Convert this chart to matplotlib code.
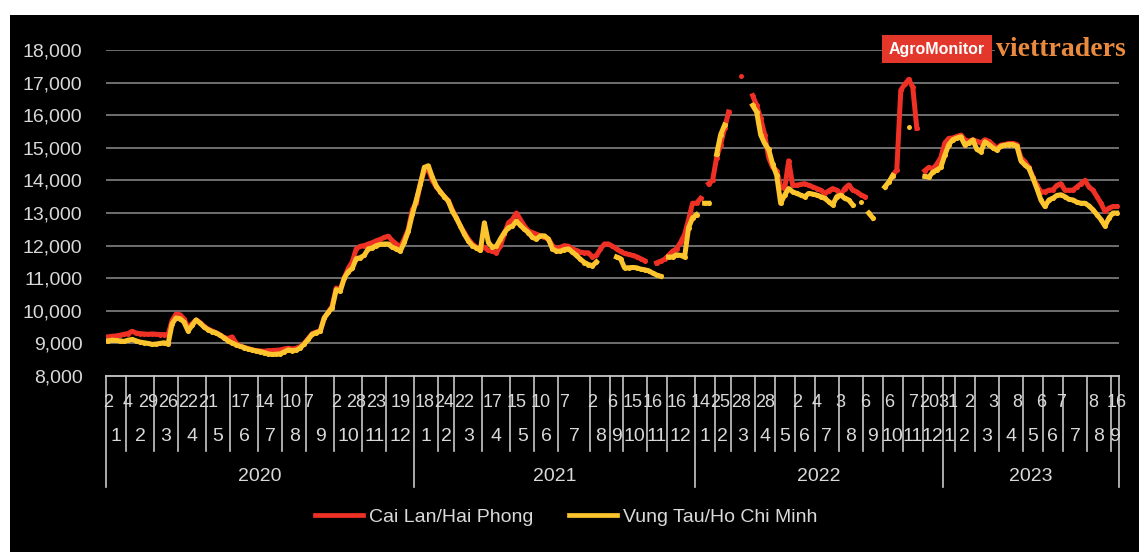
import numpy as np
import matplotlib
matplotlib.use("Agg")
import matplotlib.pyplot as plt
import matplotlib.transforms as mtransforms
from matplotlib.lines import Line2D
from matplotlib.patches import Rectangle
from matplotlib.ticker import FuncFormatter

nan = np.nan

# ---- category structure: year / month / observations per month ----
years = ["2020", "2021", "2022", "2023"]
months = [list(range(1, 13)), list(range(1, 13)), list(range(1, 13)), list(range(1, 10))]
obs_per_month = [
    [5, 7, 6, 7, 6, 7, 6, 6, 7, 7, 6, 7],
    [6, 4, 7, 7, 6, 6, 8, 5, 3, 6, 5, 7],
    [5, 4, 6, 5, 5, 5, 6, 6, 5, 5, 5, 5],
    [3, 5, 6, 6, 5, 5, 6, 6, 2],
]

# day-of-month labels shown on the innermost axis level, and the observation they belong to
day_labels = ["2", "4", "29", "26", "22", "21", "17", "14", "10", "7", "2", "28", "23", "19",
              "18", "24", "22", "17", "15", "10", "7", "2", "6", "15", "16", "16",
              "14", "25", "28", "28", "2", "4", "3", "6", "6", "7", "20",
              "31", "2", "3", "8", "6", "7", "8", "16"]
day_label_obs = [0, 5, 10, 15, 20, 25, 33, 39, 46, 50, 57, 62, 67, 73,
                 79, 84, 89, 96, 102, 108, 114, 121, 126, 131, 136, 142,
                 148, 153, 158, 164, 172, 177, 183, 189, 195, 201, 205,
                 210, 215, 221, 227, 233, 238, 246, 252]

# ---- prices (VND/kg) ----
cai_lan_2020 = [9200, 9220, 9230, 9250, 9280,
                9300, 9370, 9320, 9300, 9290, 9280, 9290,
                9280, 9270, 9270, 9260, 9700, 9900,
                9880, 9750, 9480, 9600, 9720, 9640, 9520,
                9440, 9380, 9330, 9260, 9180, 9150,
                9200, 9000, 8930, 8880, 8840, 8800, 8780,
                8770, 8760, 8780, 8780, 8790, 8800,
                8830, 8850, 8830, 8850, 8900, 9000,
                9150, 9300, 9350, 9380, 9780, 9950, 10150,
                10700, 10650, 11000, 11300, 11500, 11900, 11980,
                12000, 12050, 12090, 12150, 12190, 12250,
                12290, 12150, 12050, 11950, 12200, 12500, 13100]
cai_lan_2021 = [13300, 13900, 14300, 14350, 14000, 13800,
                13650, 13500, 13380, 13100,
                12850, 12600, 12400, 12200, 12050, 11950, 11900,
                11950, 11850, 11830, 11780, 12000, 12350, 12700,
                12800, 13000, 12800, 12600, 12450, 12400,
                12350, 12300, 12250, 12200, 12000, 11900,
                11950, 12000, 11980, 11900, 11850, 11800, 11780, 11780,
                11650, 11700, 11900, 12050, 12050,
                11980, 11900, 11820,
                11760, 11730, 11700, 11660, 11600, 11540,
                nan, nan, 11470, 11520, 11580,
                11700, 11830, 11900, 12100, 12340, 12800, 13300]
cai_lan_2022 = [13300, 13450, nan, 13900, 14000,
                14700, 15100, 15600, 16100,
                nan, nan, 17200, nan, nan, 16600,
                16300, 15900, 15400, 14700, 14400,
                14300, 13800, 13750, 14600, 13850,
                13850, 13880, 13900, 13850, 13800,
                13750, 13700, 13600, 13680, 13750, 13700,
                13560, 13750, 13860, 13700, 13650, 13560,
                13500, nan, nan, nan, nan,
                nan, nan, 14150, 14320, 16770,
                16950, 17100, 16850, 15600, nan,
                14300, 14400, 14350, 14500, 14700]
cai_lan_2023 = [15150, 15290, 15300,
                15350, 15390, 15250, 15200, 15250,
                15200, 15150, 15250, 15200, 15100, 14980,
                15085, 15100, 15135, 15135, 15100, 14700,
                14575, 14400, 14100, 13850, 13650,
                13650, 13700, 13710, 13850, 13900,
                13700, 13700, 13700, 13800, 13900, 14000,
                13800, 13700, 13500, 13300, 13050, 13150,
                13200, 13200]

vung_tau_2020 = [9080, 9100, 9090, 9080, 9060,
                 9100, 9120, 9080, 9040, 9020, 9000, 8970,
                 8980, 9000, 9020, 8980, 9600, 9780,
                 9760, 9650, 9380, 9550, 9720, 9620, 9500,
                 9420, 9360, 9320, 9250, 9170, 9080,
                 9010, 8960, 8910, 8870, 8830, 8800, 8770,
                 8750, 8720, 8680, 8660, 8670, 8680,
                 8740, 8800, 8780, 8790, 8860, 8980,
                 9120, 9280, 9330, 9370, 9780, 9950, 10100,
                 10650, 10600, 11000, 11200, 11300, 11600, 11630,
                 11700, 11900, 11930, 12000, 12035, 12050,
                 12050, 11950, 11900, 11830, 12100, 12440, 12960]
vung_tau_2021 = [13400, 13880, 14400, 14450, 14100, 13825,
                 13650, 13500, 13365, 13050,
                 12850, 12600, 12350, 12140, 12000, 11930, 11850,
                 12700, 12100, 11950, 11980, 12200, 12400, 12550,
                 12600, 12750, 12620, 12500, 12400, 12250,
                 12200, 12300, 12300, 12200, 11900, 11830,
                 11830, 11880, 11900, 11800, 11700, 11580, 11480, 11420,
                 11380, 11500, nan, nan, nan,
                 nan, 11650, 11600,
                 11320, 11320, 11330, 11320, 11280, 11260,
                 11230, 11160, 11100, 11060, nan,
                 11650, 11650, 11720, 11700, 11650, 12550, 12850]
vung_tau_2022 = [12950, nan, 13300, 13300, nan,
                 14800, 15400, 15700, nan,
                 nan, nan, nan, nan, nan, 16300,
                 16100, 15400, 15130, 14950, 14500,
                 14160, 13300, 13550, 13750, 13650,
                 13600, 13550, 13500, 13600, 13580,
                 13550, 13500, 13450, 13350, 13250, 13500,
                 13550, 13450, 13400, 13250, nan, 13350,
                 nan, 13000, 12850, nan, nan,
                 13800, 13950, 14150, nan, nan,
                 nan, 15640, nan, nan, nan,
                 14120, 14100, 14250, 14320, 14400]
vung_tau_2023 = [14780, 15100, 15250,
                 15300, 15340, 15085, 15150, 15240,
                 14950, 14880, 15185, 15100, 15000, 14930,
                 15050, 15080, 15100, 15100, 15050, 14600,
                 14470, 14370, 14070, 13750, 13400,
                 13200, 13400, 13455, 13540, 13560,
                 13500, 13420, 13400, 13330, 13300, 13300,
                 13220, 13100, 12950, 12800, 12600, 12850,
                 13000, 13000]

series_names = ["Cai Lan/Hai Phong", "Vung Tau/Ho Chi Minh"]
cai_lan = cai_lan_2020 + cai_lan_2021 + cai_lan_2022 + cai_lan_2023
vung_tau = vung_tau_2020 + vung_tau_2021 + vung_tau_2022 + vung_tau_2023

# ---- style ----
RED = "#ee3124"
GOLD = "#fcc42d"
TXT = "#d9d9d9"
GRID = "#8c8c8c"
AXLINE = "#c8c8c8"
plt.rcParams["font.family"] = ["Liberation Sans", "DejaVu Sans"]

W, H = 1139, 552
fig = plt.figure(figsize=(W / 100, H / 100), dpi=100, facecolor="white")
fig.patches.append(Rectangle((10 / W, 0), 1 - 10 / W, 1 - 15 / H, transform=fig.transFigure,
                             facecolor="black", edgecolor="none", zorder=-5))

ax = fig.add_axes([106 / W, 1 - 376 / H, 1013 / W, 326 / H])
ax.set_facecolor("black")
for s in ax.spines.values():
    s.set_visible(False)

n_obs = len(cai_lan)
x = np.arange(n_obs) + 0.5

ax.set_xlim(0, n_obs)
ax.set_ylim(8000, 18000)
ax.set_yticks(np.arange(8000, 18001, 1000))
ax.yaxis.set_major_formatter(FuncFormatter(lambda v, _: f"{v:,.0f}"))
ax.tick_params(axis="y", length=0, pad=17, labelsize=14, labelcolor=TXT)
ax.set_xticks([])

for v in np.arange(9000, 18001, 1000):
    ax.axhline(v, color=GRID, lw=1.1, zorder=1)

lw = 3.6
ax.plot(x, cai_lan, color=RED, lw=lw, marker="o", ms=lw, mew=0,
        solid_joinstyle="round", zorder=3)
ax.plot(x, vung_tau, color=GOLD, lw=lw, marker="o", ms=lw, mew=0,
        solid_joinstyle="round", zorder=4)

# ---- multi-level category axis ----
trans = mtransforms.blended_transform_factory(ax.transData, ax.transAxes)
y_day, y_month, y_year = -0.080, -0.187, -0.307
month_bottom, year_bottom = -0.230, -0.340

ax.plot([0, n_obs], [0, 0], transform=trans, color=AXLINE, lw=1.3, clip_on=False, zorder=5)

start = 0
for yr, mlist, counts in zip(years, months, obs_per_month):
    year_start = start
    ax.plot([start, start], [0, year_bottom], transform=trans, color=AXLINE, lw=1.2, clip_on=False)
    for m, c in zip(mlist, counts):
        if start != year_start:
            ax.plot([start, start], [0, month_bottom], transform=trans, color=AXLINE, lw=1.2, clip_on=False)
        ax.text(start + c / 2, y_month, str(m), transform=trans, ha="center", va="center",
                fontsize=14, color=TXT, clip_on=False)
        start += c
    ax.text((year_start + start) / 2, y_year, yr, transform=trans, ha="center", va="center",
            fontsize=14, color=TXT, clip_on=False)
ax.plot([start, start], [0, year_bottom], transform=trans, color=AXLINE, lw=1.2, clip_on=False)

for lab, idx in zip(day_labels, day_label_obs):
    ax.text(idx + 0.5, y_day, lab, transform=trans, ha="center", va="center",
            fontsize=13, color=TXT, clip_on=False)

# ---- legend ----
handles = [Line2D([], [], color=RED, lw=3.4), Line2D([], [], color=GOLD, lw=3.4)]
fig.legend(handles, series_names, loc="center", bbox_to_anchor=(566 / W, 1 - 517 / H),
           ncol=2, frameon=False, fontsize=14, handlelength=2.5, handletextpad=0.3,
           columnspacing=1.8, labelcolor=TXT)

# ---- brand mark ----
fig.patches.append(Rectangle((882 / W, 1 - 63 / H), 110 / W, 28 / H, transform=fig.transFigure,
                             facecolor="#e2372a", edgecolor="none", zorder=10))
fig.text(937 / W, 1 - 49 / H, "AgroMonitor", ha="center", va="center", fontsize=11.5,
         fontweight="bold", color="white", zorder=11)
fig.text(996 / W, 1 - 50 / H, "viettraders", ha="left", va="center", fontsize=20,
         fontweight="bold", family=["Liberation Serif", "DejaVu Serif"], color="#e98a3f", zorder=11,
         bbox=dict(facecolor="black", edgecolor="none", pad=1))

fig.savefig("out.png", dpi=100, facecolor=fig.get_facecolor())
